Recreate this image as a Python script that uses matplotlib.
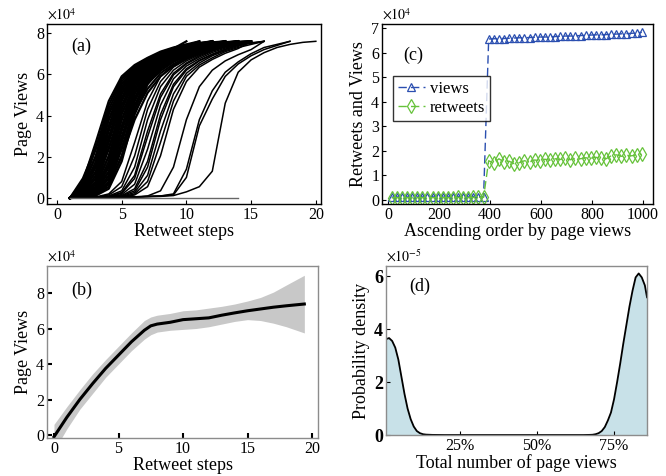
import numpy as np
import matplotlib
matplotlib.use("Agg")
import matplotlib.pyplot as plt

plt.rcParams['font.family'] = ['Liberation Serif', 'DejaVu Serif']
plt.rcParams['mathtext.fontset'] = 'stix'

# ---- (a) page views per retweet step, values in 1e4, step 1..n
dense_a = [
    [0, 0.80, 2.70, 4.70, 5.90, 6.45, 6.80, 7.10, 7.30, 7.45, 7.6],
    [0, 0.67, 2.37, 4.50, 5.78, 6.40, 6.76, 7.06, 7.27, 7.44, 7.52, 7.6],
    [0, 0.55, 2.05, 4.30, 5.65, 6.35, 6.72, 7.02, 7.25, 7.6],
    [0, 0.45, 1.78, 4.05, 5.52, 6.27, 6.68, 6.98, 7.22, 7.41, 7.50, 7.55, 7.6],
    [0, 0.35, 1.50, 3.80, 5.40, 6.20, 6.65, 6.95, 7.20, 7.40, 7.50, 7.6],
    [0, 0.31, 1.30, 3.50, 5.22, 6.12, 6.60, 6.92, 7.18, 7.38, 7.6],
    [0, 0.27, 1.10, 3.25, 5.05, 6.05, 6.55, 6.90, 7.15, 7.35, 7.48, 7.54, 7.56, 7.6],
    [0, 0.23, 0.95, 2.97, 4.88, 5.97, 6.50, 6.84, 7.12, 7.32, 7.46, 7.6],
    [0, 0.20, 0.80, 2.70, 4.70, 5.90, 6.45, 6.80, 7.10, 7.30, 7.45, 7.52, 7.6],
    [0, 0.17, 0.67, 2.37, 4.50, 5.78, 6.40, 6.76, 7.06, 7.27, 7.44, 7.52, 7.55, 7.57, 7.6],
    [0, 0.15, 0.55, 2.05, 4.30, 5.65, 6.35, 6.72, 7.02, 7.25, 7.42, 7.6],
    [0, 0.12, 0.45, 1.78, 4.05, 5.52, 6.27, 6.68, 6.98, 7.22, 7.41, 7.50, 7.54, 7.6],
    [0, 0.10, 0.35, 1.50, 3.80, 5.40, 6.20, 6.65, 6.95, 7.20, 7.40, 7.50, 7.6],
    [0, 0.09, 0.31, 1.30, 3.50, 5.22, 6.12, 6.60, 6.92, 7.18, 7.38, 7.49, 7.55, 7.57, 7.6],
    [0, 0.07, 0.27, 1.10, 3.25, 5.05, 6.05, 6.55, 6.90, 7.15, 7.35, 7.48, 7.54, 7.6],
    [0, 0.06, 0.23, 0.95, 2.97, 4.88, 5.97, 6.50, 6.84, 7.12, 7.32, 7.46, 7.6],
    [0, 0.05, 0.20, 0.80, 2.70, 4.70, 5.90, 6.45, 6.80, 7.10, 7.30, 7.45, 7.52, 7.56, 7.6],
    [0, 0.04, 0.17, 0.67, 2.37, 4.50, 5.78, 6.40, 6.76, 7.06, 7.27, 7.44, 7.52, 7.6],
    [0, 0.03, 0.15, 0.55, 2.05, 4.30, 5.65, 6.35, 6.72, 7.02, 7.25, 7.42, 7.51, 7.55, 7.6],
    [0, 0.03, 0.12, 0.45, 1.78, 4.05, 5.52, 6.27, 6.68, 6.98, 7.22, 7.41, 7.50, 7.6],
    # flatter ones inside the dense band
    [0, 0.95, 2.45, 4.15, 5.30, 6.05, 6.50, 6.82, 7.05, 7.24, 7.38, 7.6],
    [0, 0.70, 2.00, 3.80, 5.10, 5.90, 6.40, 6.75, 7.00, 7.20, 7.35, 7.45, 7.6],
    [0, 0.55, 1.60, 3.35, 4.80, 5.70, 6.28, 6.67, 6.94, 7.15, 7.32, 7.6],
    [0, 0.40, 1.25, 2.90, 4.50, 5.55, 6.17, 6.60, 6.88, 7.10, 7.28, 7.40, 7.48, 7.6],
    [0, 0.30, 0.95, 2.45, 4.15, 5.30, 6.05, 6.50, 6.82, 7.05, 7.24, 7.38, 7.6],
    [0, 0.20, 0.70, 2.00, 3.80, 5.10, 5.90, 6.40, 6.75, 7.00, 7.20, 7.35, 7.45, 7.52, 7.6],
    [0, 0.17, 0.55, 1.60, 3.35, 4.80, 5.70, 6.28, 6.67, 6.94, 7.15, 7.32, 7.43, 7.6],
    [0, 0.12, 0.40, 1.25, 2.90, 4.50, 5.55, 6.17, 6.60, 6.88, 7.10, 7.28, 7.40, 7.6],
    [0, 0.10, 0.30, 0.95, 2.45, 4.15, 5.30, 6.05, 6.50, 6.82, 7.05, 7.24, 7.38, 7.6],
    [0, 0.06, 0.20, 0.70, 2.00, 3.80, 5.10, 5.90, 6.40, 6.75, 7.00, 7.20, 7.35, 7.45, 7.6],
]
sparse_a = [
    # middle group
    [0, 0.02, 0.05, 0.20, 0.80, 2.70, 4.70, 5.90, 6.45, 6.80, 7.10, 7.30, 7.45, 7.6],
    [0, 0.01, 0.03, 0.15, 0.55, 2.05, 4.30, 5.65, 6.35, 6.72, 7.02, 7.25, 7.42, 7.51, 7.6],
    [0, 0.01, 0.02, 0.10, 0.35, 1.50, 3.80, 5.40, 6.20, 6.65, 6.95, 7.20, 7.40, 7.50, 7.6],
    [0, 0.01, 0.02, 0.07, 0.27, 1.10, 3.25, 5.05, 6.05, 6.55, 6.90, 7.15, 7.35, 7.48, 7.6],
    [0, 0.01, 0.02, 0.06, 0.23, 0.95, 2.97, 4.88, 5.97, 6.50, 6.84, 7.12, 7.32, 7.46, 7.53, 7.6],
    [0, 0.01, 0.02, 0.04, 0.17, 0.67, 2.37, 4.50, 5.78, 6.40, 6.76, 7.06, 7.27, 7.44, 7.6],
    [0, 0.01, 0.02, 0.03, 0.12, 0.45, 1.78, 4.05, 5.52, 6.27, 6.68, 6.98, 7.22, 7.41, 7.6],
    [0, 0.01, 0.01, 0.02, 0.10, 0.35, 1.50, 3.80, 5.40, 6.20, 6.65, 6.95, 7.20, 7.40, 7.50, 7.6],
    [0, 0.01, 0.01, 0.02, 0.07, 0.27, 1.10, 3.25, 5.05, 6.05, 6.55, 6.90, 7.15, 7.35, 7.6],
    [0, 0.01, 0.01, 0.02, 0.05, 0.20, 0.80, 2.70, 4.70, 5.90, 6.45, 6.80, 7.10, 7.30, 7.45, 7.6],
    [0, 0.01, 0.01, 0.02, 0.03, 0.15, 0.55, 2.05, 4.30, 5.65, 6.35, 6.72, 7.02, 7.25, 7.6],
    [0, 0.01, 0.01, 0.01, 0.02, 0.02, 0.10, 0.35, 1.50, 3.80, 5.40, 6.20, 6.65, 6.95, 7.20, 7.6],
    # late group
    [0, 0.01, 0.02, 0.03, 0.04, 0.06, 0.08, 0.10, 0.15, 1.0, 3.5, 4.8, 5.9, 6.5, 6.9, 7.2, 7.4, 7.6],
    [0, 0.01, 0.02, 0.03, 0.04, 0.06, 0.08, 0.10, 0.20, 1.4, 3.8, 5.2, 6.1, 6.6, 7.0, 7.3, 7.45, 7.6],
    [0, 0.01, 0.02, 0.03, 0.04, 0.05, 0.06, 0.08, 0.12, 0.3, 0.55, 1.3, 4.6, 6.1, 6.7, 7.05, 7.3, 7.45, 7.55, 7.6],
]
flat_a = [0, 0, 0, 0, 0, 0, 0, 0, 0, 0, 0, 0, 0, 0]

# ---- (b) mean page views with band, in 1e4
b_x = [0, 1, 2, 3, 4, 5, 6, 7, 7.5, 8, 9, 10, 11, 12, 13, 14, 15, 16, 17, 18, 19.4]
b_mean = [-0.1, 1.0, 2.0, 2.9, 3.75, 4.5, 5.25, 5.9, 6.15, 6.25, 6.35, 6.5, 6.55, 6.6, 6.75, 6.88, 7.0, 7.1, 7.2, 7.28, 7.38]
b_upper = [0.6, 1.6, 2.55, 3.45, 4.25, 5.0, 5.75, 6.45, 6.65, 6.75, 6.85, 7.0, 7.05, 7.15, 7.25, 7.38, 7.55, 7.75, 8.05, 8.45, 9.0]
b_lower = [-0.9, 0.35, 1.45, 2.35, 3.25, 4.0, 4.75, 5.4, 5.65, 5.8, 5.9, 5.95, 6.0, 6.1, 6.25, 6.4, 6.5, 6.45, 6.3, 6.1, 5.75]

# ---- (c) retweets and views sorted by page views, in 1e4
c_x = list(range(15, 380, 20)) + list(range(395, 1006, 20))
views = [0.12, 0.13, 0.12, 0.13, 0.12, 0.13, 0.13, 0.12, 0.13, 0.13, 0.12, 0.13, 0.13, 0.14, 0.13, 0.13, 0.14, 0.14, 0.14,
         6.55, 6.56, 6.57, 6.57, 6.58, 6.59, 6.60, 6.60, 6.61, 6.62, 6.63, 6.63, 6.64, 6.65, 6.66, 6.67,
         6.67, 6.68, 6.69, 6.70, 6.71, 6.72, 6.72, 6.73, 6.74, 6.75, 6.76, 6.77, 6.78, 6.80, 6.82]
retweets = [0.09, 0.10, 0.09, 0.10, 0.09, 0.10, 0.10, 0.09, 0.10, 0.10, 0.10, 0.10, 0.10, 0.11, 0.10, 0.10, 0.11, 0.11, 0.11,
            1.60, 1.50, 1.68, 1.55, 1.58, 1.48, 1.52, 1.60, 1.55, 1.63, 1.60, 1.66, 1.62, 1.68, 1.65, 1.70,
            1.64, 1.70, 1.68, 1.72, 1.70, 1.74, 1.70, 1.68, 1.80, 1.84, 1.78, 1.82, 1.80, 1.84, 1.86]

# ---- (d) density of total page views, x in %, density in 1e-5
d_x = [1.0, 2.0, 3.0, 4.0, 5.0, 6.0, 7.0, 8.0, 9.0, 10.0, 11.0, 12.0, 13.0, 14.0, 16.0, 20.0, 30, 40, 50, 60,
       65, 67, 68, 69, 70, 71, 72, 73, 74, 75, 76, 77, 78, 79, 80, 81, 82, 83, 84, 85, 85.7]
d_y = [3.62, 3.66, 3.55, 3.3, 2.85, 2.2, 1.55, 1.0, 0.6, 0.32, 0.15, 0.07, 0.03, 0.015, 0.005, 0.0, 0, 0, 0, 0,
       0.0, 0.005, 0.01, 0.03, 0.07, 0.15, 0.3, 0.55, 0.85, 1.35, 2.0, 2.7, 3.45, 4.15, 4.85, 5.45, 5.95, 6.1, 5.95, 5.65, 5.2]

fig = plt.figure(figsize=(6.66, 4.76), dpi=100)
ax_a = fig.add_axes([0.0706, 0.5714, 0.4114, 0.3782])
ax_c = fig.add_axes([0.5736, 0.5714, 0.4069, 0.3782])
ax_b = fig.add_axes([0.0706, 0.0798, 0.4069, 0.3613])
ax_d = fig.add_axes([0.5796, 0.0861, 0.3919, 0.3550])

tick_fs = 11.5
lab_fs = 13


def style(ax, spine_col, tick_w=0.8, tick_len=3):
    for s in ax.spines.values():
        s.set_color(spine_col)
        s.set_linewidth(1.0)
    ax.tick_params(direction='in', length=tick_len, width=tick_w, labelsize=tick_fs, pad=2,
                   top=False, right=False)


def offset(ax, txt):
    ax.text(0.0, 1.01, txt, transform=ax.transAxes, fontsize=10, ha='left', va='bottom')


# (a)
for c in dense_a:
    ax_a.plot(np.arange(1, len(c) + 1), c, color='black', lw=1.6)
for c in sparse_a:
    ax_a.plot(np.arange(1, len(c) + 1), c, color='black', lw=1.1)
ax_a.plot(np.arange(1, len(flat_a) + 1), flat_a, color='#666666', lw=1.0)
ax_a.set_xlim(-0.77, 20.4)
ax_a.set_ylim(-0.29, 8.44)
ax_a.set_xticks([0, 5, 10, 15, 20])
ax_a.set_yticks([0, 2, 4, 6, 8])
ax_a.set_xlabel('Retweet steps', fontsize=lab_fs, labelpad=0)
ax_a.set_ylabel('Page Views', fontsize=lab_fs, labelpad=3)
style(ax_a, 'black')
offset(ax_a, r'$\times10^{4}$')
ax_a.text(0.09, 0.85, '(a)', transform=ax_a.transAxes, fontsize=13)

# (b)
ax_b.fill_between(b_x, b_lower, b_upper, color='#c8c8c8', lw=0)
ax_b.plot(b_x, b_mean, color='black', lw=2.2)
ax_b.set_xlim(-0.54, 20.46)
ax_b.set_ylim(-0.17, 9.52)
ax_b.set_xticks([0, 5, 10, 15, 20])
ax_b.set_yticks([0, 2, 4, 6, 8])
ax_b.set_xlabel('Retweet steps', fontsize=lab_fs, labelpad=0)
ax_b.set_ylabel('Page Views', fontsize=lab_fs, labelpad=3)
style(ax_b, '#8c8c8c', tick_w=1.5, tick_len=3.5)
offset(ax_b, r'$\times10^{4}$')
ax_b.text(0.09, 0.83, '(b)', transform=ax_b.transAxes, fontsize=13)

# (c)
ax_c.plot(c_x, views, color='#2b4fb0', ls=(0, (6, 3)), lw=1.0, marker='^', ms=6,
          mfc='none', mec='#2b4fb0', mew=0.9, label='views')
ax_c.plot(c_x, retweets, color='#66c23a', ls=(0, (6, 3)), lw=1.0, marker='d', ms=7,
          mfc='none', mec='#66c23a', mew=0.9, label='retweets')
ax_c.set_xlim(-23, 1039)
ax_c.set_ylim(-0.16, 7.16)
ax_c.set_xticks([0, 200, 400, 600, 800, 1000])
ax_c.set_yticks([0, 1, 2, 3, 4, 5, 6, 7])
ax_c.set_xlabel('Ascending order by page views', fontsize=lab_fs, labelpad=0)
ax_c.set_ylabel('Retweets and Views', fontsize=lab_fs, labelpad=3)
style(ax_c, 'black')
offset(ax_c, r'$\times10^{4}$')
ax_c.text(0.08, 0.80, '(c)', transform=ax_c.transAxes, fontsize=13)
leg = ax_c.legend(loc='upper left', bbox_to_anchor=(0.04, 0.71), fontsize=12, frameon=True,
                  fancybox=False, handlelength=1.6, handletextpad=0.3, borderpad=0.3,
                  labelspacing=0.15, borderaxespad=0)
leg.get_frame().set_edgecolor('black')
leg.get_frame().set_linewidth(1.0)

# (d)
ax_d.fill_between(d_x, 0, d_y, color='#c8e1e8', lw=0)
ax_d.plot(d_x, d_y, color='black', lw=1.3)
ax_d.set_xlim(1.0, 85.7)
ax_d.set_ylim(0, 6.38)
ax_d.set_xticks([25, 50, 75])
ax_d.set_xticklabels(['25%', '50%', '75%'])
ax_d.set_yticks([0, 2, 4, 6])
ax_d.set_xlabel('Total number of page views', fontsize=lab_fs, labelpad=0)
ax_d.set_ylabel('Probability density', fontsize=lab_fs, labelpad=3)
style(ax_d, '#8c8c8c')
for t in ax_d.get_yticklabels():
    t.set_fontweight('bold')
    t.set_fontsize(13)
offset(ax_d, r'$\times10^{-5}$')
ax_d.text(0.09, 0.85, '(d)', transform=ax_d.transAxes, fontsize=13)

fig.savefig('out.png', dpi=100)
